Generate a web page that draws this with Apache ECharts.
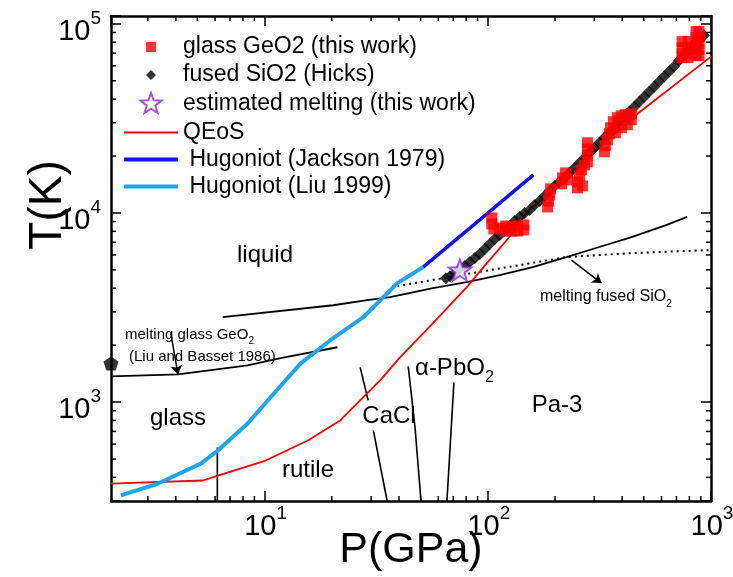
<!DOCTYPE html>
<html>
<head>
<meta charset="utf-8">
<script src="https://cdn.jsdelivr.net/npm/echarts@6/dist/echarts.min.js"></script>
<style>html,body{margin:0;padding:0;background:#fff}#chart{width:733px;height:577px}</style>
</head>
<body>
<div id="chart"></div>
<script>
// axis ranges (P in GPa, T in K), both log
const xMin = 2.05, xMax = 1000;
const yMin = 300, yMax = 110000;
const xMinorTicks = [3, 4, 5, 6, 7, 8, 9, 20, 30, 40, 50, 60, 70, 80, 90, 200, 300, 400, 500, 600, 700, 800, 900];
const yMinorTicks = [400, 500, 600, 700, 800, 900, 2000, 3000, 4000, 5000, 6000, 7000, 8000, 9000,
    20000, 30000, 40000, 50000, 60000, 70000, 80000, 90000];

// glass GeO2 (this work)
const geo2P = [104.2, 104.2, 106.4, 113.1, 120.3, 120.3, 128.0, 128.0, 136.1, 136.1, 144.8, 144.8,
    185.3, 187.2, 189.2, 191.1,
    213.9, 216.1, 223.0, 227.6,
    252.3, 252.3, 257.6, 262.8, 271.1, 279.6, 265.6, 279.6, 279.6, 279.6,
    332.9, 336.3, 343.4, 350.5, 354.1,
    365.2, 380.5, 396.5, 413.1, 430.5, 439.4, 421.7, 396.5, 372.8, 439.4,
    742.2, 742.2, 742.2, 742.2, 789.5, 789.5, 789.5, 789.5,
    857.3, 857.3, 857.3, 857.3, 857.3, 884, 884, 884, 884, 884];
const geo2T = [9408, 8745, 8227, 8328, 8536, 8030, 8430, 8030, 8536, 8030, 8641, 8129,
    10760, 11576, 12456, 13404,
    14246, 15330, 16292, 14960,
    13567, 14598, 15712, 16902, 17964, 18634, 13902, 23493, 21839, 20294,
    21055, 22648, 24374, 26222, 28216,
    30355, 31876, 32659, 33073, 33073, 31115, 29272, 28216, 26544, 33465,
    80580, 74900, 69590, 66280, 80580, 74900, 69590, 66280,
    91030, 84590, 78640, 73132, 67920, 91030, 84590, 78640, 73132, 67920];

// fused SiO2 (Hicks)
const sio2P = [64.9, 67.7, 71.2, 75.0, 78.9, 83.1, 87.5, 92.1, 97.0, 102.1, 107.5, 113.1, 119.1, 125.4,
    132.0, 139.0, 146.3, 154.0, 162.1, 170.7, 179.7, 189.2, 199.2, 209.7, 220.8, 232.4, 244.7, 257.6,
    271.1, 285.5, 300.5, 316.2, 332.9, 350.5, 369.0, 388.5, 408.9, 430.5, 453.4, 477.1, 502.2, 528.6,
    556.6, 586.1, 616.9, 649.4, 683.7, 719.6, 757.8, 797.6, 839.7, 884.0, 930.7];
const sio2T = [4520, 4630, 4810, 5050, 5240, 5500, 5780, 6065, 6446, 6852, 7284, 7648, 8030, 8536,
    9073, 9525, 10000, 10373, 11025, 11576, 12305, 13079, 13902, 14598, 15330, 16294, 17320, 18408,
    19566, 20797, 22107, 23499, 24978, 26550, 28223, 30364, 32276, 34307, 36466, 38762, 41202, 43795,
    46552, 49481, 52595, 55905, 59425, 63939, 67963, 72242, 76789, 81622, 86760];

// estimated melting (this work)
const meltP = [75];
const meltT = [4990];

// QEoS
const qeosP = [2.05, 5.29, 6.17, 10.1, 15.6, 21.8, 32.9, 40.4, 56.8, 80.5, 99, 125, 149, 195, 462, 1000];
const qeosT = [371, 385, 409, 491, 627, 800, 1304, 1725, 2612, 4055, 5433, 7466, 10000, 13240, 33073, 67100];

// Hugoniot (Jackson 1979)
const jacksonP = [51.3, 92, 160];
const jacksonT = [5174, 9190, 15890];

// Hugoniot (Liu 1999)
const liuP = [2.27, 3.33, 5.18, 6.17, 8.39, 11.0, 14.5, 19.7, 27.7, 39.3, 51.3];
const liuT = [321, 371, 473, 555, 771, 1111, 1603, 2124, 2813, 4257, 5174];

// melting glass GeO2 (Liu and Basset 1986)
const meltGeo2P = [2.05, 4.09, 8.39, 11.8, 21.2];
const meltGeo2T = [1368, 1403, 1565, 1706, 1950];

// melting curve, solid
const meltSolidP = [6.49, 20.3, 28.8, 36.5, 56.8, 80.5, 113, 159, 225, 316, 444, 629, 782];
const meltSolidT = [2813, 3251, 3459, 3589, 4003, 4306, 4693, 5174, 5845, 6607, 7466, 8630, 9530];

// melting fused SiO2, dotted
const meltDotP = [39.3, 80.5, 225, 444, 1000];
const meltDotT = [4105, 4754, 5845, 6138, 6368];

// phase boundaries
const boundaries = [
    {P: [6.14, 6.14], T: [575, 300]},
    {P: [26.8, 29.1], T: [1527, 1021]},
    {P: [30.7, 35.4], T: [708, 300]},
    {P: [44, 47.2, 50.2], T: [1546, 733, 300]},
    {P: [70.5, 65.6], T: [1271, 300]}
];

// arrows
const arrows = [
    {P: [3.8, 4.09], T: [2312, 1400]},
    {P: [237, 323], T: [5636, 4257]}
];

// reference point on the axis
const pentP = [xMin];
const pentT = [1603];

const zip = (a, b) => a.map((v, i) => [v, b[i]]);
const FONT = 'Liberation Sans, Arial, sans-serif';

const starPath = 'path://M12,0 L14.94,7.95 L23.41,8.29 L16.76,13.55 L19.05,21.71 L12,17 L4.95,21.71 L7.24,13.55 L0.59,8.29 L9.06,7.95 Z';
const pentPath = 'path://M7,0 L13.66,4.84 L11.11,12.66 L2.89,12.66 L0.34,4.84 Z';
const squareIcon = 'path://M0,0 M24,24 M7,7 L17,7 L17,17 L7,17 Z';
const diamondIcon = 'path://M0,0 M24,24 M12,7 L17,12 L12,17 L7,12 Z';
const starIcon = 'path://M-1,-1 M25,25 M12,0 L14.94,7.95 L23.41,8.29 L16.76,13.55 L19.05,21.71 L12,17 L4.95,21.71 L7.24,13.55 L0.59,8.29 L9.06,7.95 Z';
const thinLineIcon = 'path://M0,0 L54,0 L54,2 L0,2 Z';
const thickLineIcon = 'path://M0,0 L54,0 L54,4 L0,4 Z';

function powLabel(v) {
    const e = Math.log10(v);
    if (Math.abs(e - Math.round(e)) > 1e-6) return '';
    return '{p|}{b|10}{s|' + Math.round(e) + '}';
}
const labelRich = {
    p: {width: 2},
    b: {fontSize: 29, fontFamily: FONT, color: '#000', lineHeight: 29, padding: [8, 0, 6, 0], verticalAlign: 'top'},
    s: {fontSize: 19, fontFamily: FONT, color: '#000', lineHeight: 19, verticalAlign: 'top'}
};

function axisBase(extra) {
    return Object.assign({
        type: 'log',
        logBase: 10,
        axisLine: {show: true, lineStyle: {color: '#000', width: 2.5}},
        axisTick: {show: true, inside: true, length: 10, lineStyle: {color: '#000', width: 1.5}},
        minorTick: {show: false},
        splitLine: {show: false}
    }, extra);
}

function minorX(params, api) {
    const cs = params.coordSys;
    const px = api.coord([api.value(0), yMin])[0];
    const st = {stroke: '#000', lineWidth: 1.5};
    return {type: 'group', children: [
        {type: 'line', shape: {x1: px, y1: cs.y + cs.height, x2: px, y2: cs.y + cs.height - 5}, style: st},
        {type: 'line', shape: {x1: px, y1: cs.y, x2: px, y2: cs.y + 5}, style: st}
    ]};
}
function minorY(params, api) {
    const cs = params.coordSys;
    const py = api.coord([xMin, api.value(1)])[1];
    const st = {stroke: '#000', lineWidth: 1.5};
    return {type: 'group', children: [
        {type: 'line', shape: {x1: cs.x, y1: py, x2: cs.x + 5, y2: py}, style: st},
        {type: 'line', shape: {x1: cs.x + cs.width, y1: py, x2: cs.x + cs.width - 5, y2: py}, style: st}
    ]};
}

function lineSeries(name, P, T, color, width, type) {
    return {
        name: name, type: 'line', data: zip(P, T), symbol: 'none', showSymbol: false,
        lineStyle: {color: color, width: width, type: type || 'solid'},
        itemStyle: {color: color}, silent: true, z: 3
    };
}

const chart = echarts.init(document.getElementById('chart'), null, {renderer: 'canvas'});

const series = [
    {type: 'custom', renderItem: minorX, data: xMinorTicks.map(v => [v, yMin]), silent: true, clip: false, z: 10},
    {type: 'custom', renderItem: minorY, data: yMinorTicks.map(v => [xMin, v]), silent: true, clip: false, z: 10},
    lineSeries('meltGeo2', meltGeo2P, meltGeo2T, '#000', 1.8),
    lineSeries('meltSolid', meltSolidP, meltSolidT, '#000', 1.8),
    lineSeries('meltDot', meltDotP, meltDotT, '#000', 2, [2, 4])
];
boundaries.forEach((b, i) => series.push(lineSeries('bound' + i, b.P, b.T, '#000', 1.6)));
series.push(
    lineSeries('QEoS', qeosP, qeosT, '#ff0000', 1.8),
    lineSeries(' Hugoniot (Jackson 1979)', jacksonP, jacksonT, '#1414e6', 3.5),
    lineSeries(' Hugoniot (Liu 1999)', liuP, liuT, '#1ea5f0', 4),
    {
        type: 'lines', coordinateSystem: 'cartesian2d', silent: true, z: 4,
        symbol: ['none', 'arrow'], symbolSize: 9,
        lineStyle: {color: '#000', width: 1.5, opacity: 1},
        data: arrows.map(a => ({coords: zip(a.P, a.T)}))
    },
    {
        name: 'fused SiO2 (Hicks)', type: 'scatter', data: zip(sio2P, sio2T),
        symbol: 'diamond', symbolSize: 12, itemStyle: {color: '#000'}, z: 5, silent: true
    },
    {
        name: 'glass GeO2 (this work)', type: 'scatter', data: zip(geo2P, geo2T),
        symbol: 'rect', symbolSize: 11, itemStyle: {color: '#ff0000'}, z: 6, silent: true
    },
    {
        name: 'estimated melting (this work)', type: 'scatter', data: zip(meltP, meltT),
        symbol: starPath, symbolSize: 22, symbolKeepAspect: true,
        itemStyle: {color: '#fff', borderColor: '#8a2be2', borderWidth: 2}, z: 7, silent: true
    },
    {
        name: 'pentagon', type: 'scatter', data: zip(pentP, pentT), clip: false,
        symbol: pentPath, symbolSize: 15, symbolKeepAspect: true, itemStyle: {color: '#000'}, z: 12, silent: true
    }
);

function txt(x, y, text, size, align, rich) {
    return {
        type: 'text', x: x, y: y, z: 20, silent: true,
        style: {text: text, fontSize: size, fontFamily: FONT, fill: '#000', align: align || 'center', verticalAlign: 'middle', rich: rich}
    };
}
const subRich = (size) => ({
    m: {fontSize: size, fontFamily: FONT, fill: '#000', lineHeight: size, verticalAlign: 'top'},
    s: {fontSize: Math.round(size * 0.65), fontFamily: FONT, fill: '#000', lineHeight: Math.round(size * 0.65), padding: [Math.round(size * 0.6), 0, 0, 0], verticalAlign: 'top'}
});

const option = {
    backgroundColor: '#fff',
    animation: false,
    grid: {left: 111, right: 22, top: 16, bottom: 76, containLabel: false, outerBoundsMode: 'none'},
    legend: {
        orient: 'vertical', left: 124, top: 35, padding: 0, itemWidth: 54, itemHeight: 24, itemGap: 4,
        textStyle: {fontSize: 23, fontFamily: FONT, color: '#000'},
        selectedMode: false,
        data: [
            {name: 'glass GeO2 (this work)', icon: squareIcon},
            {name: 'fused SiO2 (Hicks)', icon: diamondIcon},
            {name: 'estimated melting (this work)', icon: starIcon},
            {name: 'QEoS', icon: thinLineIcon},
            {name: ' Hugoniot (Jackson 1979)', icon: thickLineIcon},
            {name: ' Hugoniot (Liu 1999)', icon: thickLineIcon}
        ]
    },
    xAxis: [
        axisBase({
            position: 'bottom', min: xMin, max: xMax,
            name: 'P(GPa)', nameLocation: 'middle', nameGap: 28, nameMoveOverlap: false,
            nameTextStyle: {fontSize: 43, fontFamily: FONT, color: '#000'},
            axisLabel: {show: true, margin: 3, formatter: powLabel, rich: labelRich, showMinLabel: false}
        }),
        axisBase({position: 'top', min: xMin, max: xMax, axisLabel: {show: false}})
    ],
    yAxis: [
        axisBase({
            position: 'left', min: yMin, max: yMax,
            axisLabel: {show: true, margin: 10, formatter: powLabel, rich: labelRich}
        }),
        axisBase({position: 'right', min: yMin, max: yMax, axisLabel: {show: false}})
    ],
    graphic: [
        txt(48, 205, 'T(K)', 46),
        txt(265, 255, 'liquid', 24),
        txt(178, 418, 'glass', 24),
        txt(308, 470, 'rutile', 24),
        txt(389, 416, 'CaCl', 24),
        txt(557, 405, 'Pa-3', 24),
        txt(415, 368, '{m|α-PbO}{s|2}', 24, 'left', subRich(24)),
        txt(540, 297, '{m|melting fused SiO}{s|2}', 16, 'left', subRich(16)),
        txt(125, 335, '{m|melting glass GeO}{s|2}', 15, 'left', subRich(15)),
        txt(129, 357, '(Liu and Basset 1986)', 15, 'left')
    ],
    series: series
};
option.graphic[0].rotation = Math.PI / 2;
chart.setOption(option);
</script>
</body>
</html>
